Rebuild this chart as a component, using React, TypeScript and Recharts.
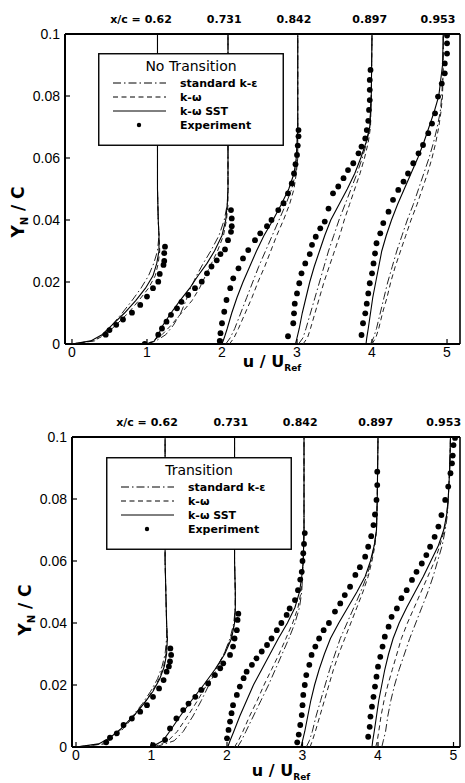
import React from 'react';
import { ScatterChart, Scatter, XAxis, YAxis, Legend, Label, ReferenceDot } from 'recharts';

// ---------- shared axis values ----------
const xTicks = [0, 1, 2, 3, 4, 5];
const yTicks = [0, 0.02, 0.04, 0.06, 0.08, 0.1];
const stationLabels = ['x/c = 0.62', '0.731', '0.842', '0.897', '0.953'];
const topStationPos = [0.92, 2.03, 2.96, 3.97, 4.88];
const botStationPos = [0.94, 2.05, 2.97, 3.97, 4.87];
const seriesNames = ['standard k-\u03b5', 'k-\u03c9', 'k-\u03c9 SST', 'Experiment'];

// ---------- No Transition (top) ----------
const nt1Y = [0, 0.001, 0.003, 0.006, 0.01, 0.014, 0.018, 0.022, 0.026, 0.03, 0.035, 0.04, 0.05, 0.06, 0.08, 0.1];
const nt1Sst = [0.0, 0.25, 0.40, 0.53, 0.70, 0.85, 0.98, 1.08, 1.13, 1.16, 1.16, 1.15, 1.14, 1.14, 1.14, 1.14];
const nt1Ke = [0.0, 0.30, 0.42, 0.53, 0.67, 0.80, 0.92, 1.02, 1.09, 1.14, 1.16, 1.15, 1.14, 1.14, 1.14, 1.14];
const nt1Kw = [0.0, 0.28, 0.45, 0.58, 0.75, 0.89, 1.02, 1.11, 1.15, 1.17, 1.16, 1.15, 1.14, 1.14, 1.14, 1.14];
const nt1ExpU = [0.45, 0.50, 0.59, 0.68, 0.80, 0.91, 1.00, 1.08, 1.15, 1.17, 1.22, 1.23, 1.23, 1.24];
const nt1ExpY = [0.003, 0.0045, 0.0062, 0.0079, 0.0101, 0.0126, 0.0153, 0.018, 0.0201, 0.0226, 0.0255, 0.0268, 0.0293, 0.0314];

const nt2Y = [0, 0.001, 0.003, 0.006, 0.01, 0.014, 0.018, 0.022, 0.026, 0.03, 0.035, 0.04, 0.045, 0.05, 0.06, 0.08, 0.1];
const nt2Sst = [1.0, 1.10, 1.15, 1.21, 1.32, 1.44, 1.57, 1.68, 1.80, 1.90, 2.00, 2.05, 2.07, 2.08, 2.08, 2.08, 2.08];
const nt2Ke = [1.0, 1.12, 1.25, 1.35, 1.45, 1.52, 1.58, 1.66, 1.75, 1.85, 1.96, 2.03, 2.07, 2.08, 2.08, 2.08, 2.08];
const nt2Kw = [1.0, 1.08, 1.20, 1.32, 1.46, 1.60, 1.70, 1.78, 1.86, 1.94, 2.02, 2.06, 2.08, 2.08, 2.08, 2.08, 2.08];
const nt2ExpU = [0.97, 1.15, 1.20, 1.26, 1.32, 1.40, 1.46, 1.55, 1.64, 1.73, 1.80, 1.86, 1.93, 1.98, 2.04, 2.08, 2.12, 2.13, 2.13, 2.12];
const nt2ExpY = [0.0, 0.003, 0.005, 0.0072, 0.0094, 0.0115, 0.0136, 0.0158, 0.018, 0.0201, 0.0228, 0.025, 0.027, 0.029, 0.0305, 0.0335, 0.0362, 0.038, 0.0405, 0.0432];

const nt3Y = [0, 0.002, 0.005, 0.01, 0.015, 0.02, 0.025, 0.03, 0.035, 0.04, 0.045, 0.05, 0.055, 0.06, 0.07, 0.08, 0.1];
const nt3Sst = [2.0, 2.03, 2.07, 2.13, 2.20, 2.28, 2.37, 2.46, 2.56, 2.68, 2.79, 2.89, 2.96, 2.99, 3.01, 3.01, 3.01];
const nt3Ke = [2.05, 2.11, 2.17, 2.25, 2.33, 2.41, 2.49, 2.58, 2.67, 2.76, 2.85, 2.93, 2.98, 3.0, 3.01, 3.01, 3.01];
const nt3Kw = [2.1, 2.16, 2.22, 2.31, 2.40, 2.48, 2.57, 2.65, 2.73, 2.82, 2.90, 2.96, 2.99, 3.01, 3.01, 3.01, 3.01];
const nt3ExpU = [1.97, 1.98, 2.0, 2.03, 2.06, 2.11, 2.15, 2.22, 2.28, 2.35, 2.44, 2.51, 2.60, 2.66, 2.75, 2.82, 2.88, 2.93, 2.96, 2.98, 3.0, 3.01, 3.02, 3.02];
const nt3ExpY = [0.001, 0.0035, 0.0067, 0.0104, 0.0142, 0.018, 0.0212, 0.0244, 0.0276, 0.0303, 0.0335, 0.0357, 0.038, 0.040, 0.0432, 0.0454, 0.0486, 0.0518, 0.055, 0.058, 0.061, 0.064, 0.067, 0.069];

const nt4Y = [0, 0.002, 0.005, 0.01, 0.015, 0.02, 0.025, 0.03, 0.035, 0.04, 0.045, 0.05, 0.055, 0.06, 0.065, 0.07, 0.08, 0.1];
const nt4Sst = [2.98, 3.0, 3.03, 3.07, 3.12, 3.17, 3.23, 3.30, 3.37, 3.45, 3.56, 3.67, 3.77, 3.85, 3.92, 3.97, 3.99, 4.0];
const nt4Ke = [3.02, 3.08, 3.12, 3.18, 3.24, 3.30, 3.36, 3.42, 3.49, 3.56, 3.64, 3.72, 3.80, 3.87, 3.93, 3.97, 3.99, 4.0];
const nt4Kw = [3.08, 3.14, 3.18, 3.24, 3.30, 3.36, 3.43, 3.50, 3.57, 3.63, 3.70, 3.77, 3.84, 3.90, 3.95, 3.98, 3.99, 4.0];
const nt4ExpU = [2.88, 2.95, 2.96, 2.97, 3.0, 3.03, 3.06, 3.11, 3.17, 3.20, 3.25, 3.31, 3.37, 3.42, 3.48, 3.55, 3.62, 3.68, 3.75, 3.82, 3.86, 3.91, 3.93, 3.95, 3.96, 3.97, 3.97, 3.97, 3.98];
const nt4ExpY = [0.0025, 0.0067, 0.0099, 0.013, 0.0163, 0.0196, 0.0228, 0.026, 0.029, 0.032, 0.0346, 0.0373, 0.0395, 0.0437, 0.0486, 0.0508, 0.0535, 0.0561, 0.0583, 0.0615, 0.0637, 0.0663, 0.069, 0.072, 0.0755, 0.0787, 0.082, 0.0852, 0.0884];

const nt5Y = [0, 0.002, 0.005, 0.01, 0.015, 0.02, 0.025, 0.03, 0.035, 0.04, 0.045, 0.05, 0.055, 0.06, 0.065, 0.07, 0.075, 0.08, 0.09, 0.1];
const nt5Sst = [3.92, 3.93, 3.95, 3.98, 4.01, 4.05, 4.09, 4.13, 4.19, 4.26, 4.34, 4.43, 4.52, 4.61, 4.69, 4.76, 4.83, 4.89, 4.94, 4.95];
const nt5Ke = [3.98, 4.02, 4.06, 4.11, 4.16, 4.21, 4.27, 4.33, 4.40, 4.47, 4.55, 4.62, 4.69, 4.76, 4.82, 4.87, 4.91, 4.93, 4.95, 4.95];
const nt5Kw = [4.0, 4.05, 4.09, 4.14, 4.20, 4.25, 4.31, 4.38, 4.45, 4.52, 4.60, 4.67, 4.74, 4.80, 4.85, 4.89, 4.92, 4.94, 4.95, 4.95];
const nt5ExpU = [3.86, 3.88, 3.91, 3.93, 3.95, 3.97, 4.0, 4.02, 4.04, 4.06, 4.11, 4.15, 4.22, 4.28, 4.35, 4.42, 4.48, 4.55, 4.62, 4.68, 4.75, 4.80, 4.84, 4.88, 4.93, 4.97, 4.97, 5.0, 5.0, 5.0];
const nt5ExpY = [0.0029, 0.0067, 0.0099, 0.013, 0.0163, 0.0196, 0.0228, 0.026, 0.0292, 0.0325, 0.0357, 0.039, 0.0427, 0.0465, 0.0497, 0.0524, 0.055, 0.0583, 0.0615, 0.0642, 0.068, 0.0711, 0.0744, 0.0798, 0.084, 0.0873, 0.0905, 0.0937, 0.097, 0.0995];

// ---------- Transition (bottom) ----------
const tr1Y = [0, 0.001, 0.003, 0.006, 0.01, 0.014, 0.018, 0.022, 0.026, 0.03, 0.035, 0.04, 0.05, 0.06, 0.08, 0.1];
const tr1Sst = [0.0, 0.30, 0.45, 0.60, 0.76, 0.90, 1.02, 1.11, 1.17, 1.20, 1.21, 1.20, 1.19, 1.18, 1.18, 1.18];
const tr1Ke = [0.0, 0.35, 0.48, 0.61, 0.75, 0.88, 0.99, 1.08, 1.14, 1.18, 1.20, 1.20, 1.19, 1.18, 1.18, 1.18];
const tr1Kw = [0.0, 0.38, 0.50, 0.63, 0.77, 0.90, 1.01, 1.10, 1.16, 1.19, 1.21, 1.20, 1.19, 1.18, 1.18, 1.18];
const tr1ExpU = [0.40, 0.45, 0.54, 0.63, 0.74, 0.85, 0.94, 1.02, 1.10, 1.16, 1.20, 1.23, 1.245, 1.26, 1.25];
const tr1ExpY = [0.0015, 0.003, 0.0044, 0.0071, 0.0092, 0.0114, 0.0135, 0.0162, 0.0189, 0.0216, 0.0243, 0.026, 0.0276, 0.0297, 0.0318];

const tr2Y = [0, 0.002, 0.005, 0.01, 0.015, 0.02, 0.025, 0.03, 0.035, 0.04, 0.045, 0.05, 0.06, 0.08, 0.1];
const tr2Sst = [1.0, 1.15, 1.24, 1.38, 1.53, 1.69, 1.84, 1.97, 2.06, 2.10, 2.11, 2.11, 2.10, 2.10, 2.10];
const tr2Ke = [1.05, 1.30, 1.42, 1.55, 1.66, 1.76, 1.86, 1.96, 2.04, 2.09, 2.11, 2.11, 2.10, 2.10, 2.10];
const tr2Kw = [1.03, 1.22, 1.34, 1.48, 1.61, 1.73, 1.85, 1.96, 2.05, 2.10, 2.11, 2.11, 2.10, 2.10, 2.10];
const tr2ExpU = [1.02, 1.18, 1.245, 1.33, 1.42, 1.49, 1.58, 1.66, 1.75, 1.84, 1.91, 1.95, 2.04, 2.08, 2.10, 2.13, 2.14, 2.15];
const tr2ExpY = [0.0006, 0.0023, 0.006, 0.0092, 0.0119, 0.014, 0.0162, 0.0184, 0.0205, 0.0232, 0.0254, 0.027, 0.0297, 0.0324, 0.035, 0.0377, 0.041, 0.043];

const tr3Y = [0, 0.002, 0.005, 0.01, 0.015, 0.02, 0.025, 0.03, 0.035, 0.04, 0.045, 0.05, 0.055, 0.06, 0.07, 0.08, 0.1];
const tr3Sst = [2.01, 2.04, 2.09, 2.17, 2.26, 2.35, 2.46, 2.57, 2.68, 2.80, 2.90, 2.96, 2.99, 3.01, 3.02, 3.02, 3.02];
const tr3Ke = [2.14, 2.19, 2.25, 2.35, 2.45, 2.55, 2.64, 2.73, 2.82, 2.90, 2.96, 2.99, 3.0, 3.01, 3.02, 3.02, 3.02];
const tr3Kw = [2.10, 2.15, 2.21, 2.30, 2.40, 2.49, 2.59, 2.69, 2.78, 2.87, 2.94, 2.98, 3.0, 3.01, 3.02, 3.02, 3.02];
const tr3ExpU = [2.0, 2.02, 2.04, 2.06, 2.08, 2.13, 2.17, 2.22, 2.26, 2.33, 2.39, 2.46, 2.53, 2.59, 2.66, 2.72, 2.79, 2.83, 2.90, 2.94, 2.97, 2.99, 3.0, 3.01, 3.02, 3.03];
const tr3ExpY = [0.0028, 0.0055, 0.0082, 0.0109, 0.0135, 0.0168, 0.0195, 0.0222, 0.0243, 0.0265, 0.0286, 0.0308, 0.0329, 0.035, 0.0377, 0.040, 0.0426, 0.0447, 0.0474, 0.0506, 0.054, 0.0565, 0.060, 0.0625, 0.0655, 0.069];

const tr4Y = [0, 0.002, 0.005, 0.01, 0.015, 0.02, 0.025, 0.03, 0.035, 0.04, 0.045, 0.05, 0.055, 0.06, 0.065, 0.07, 0.08, 0.1];
const tr4Sst = [2.98, 3.0, 3.03, 3.07, 3.11, 3.16, 3.22, 3.29, 3.37, 3.48, 3.60, 3.72, 3.83, 3.90, 3.95, 3.98, 3.99, 4.0];
const tr4Ke = [3.05, 3.09, 3.13, 3.18, 3.24, 3.30, 3.36, 3.43, 3.50, 3.59, 3.68, 3.77, 3.85, 3.91, 3.95, 3.98, 3.99, 4.0];
const tr4Kw = [3.10, 3.13, 3.17, 3.23, 3.29, 3.35, 3.41, 3.48, 3.56, 3.64, 3.72, 3.80, 3.87, 3.92, 3.96, 3.98, 3.99, 4.0];
const tr4ExpU = [2.93, 2.95, 2.97, 2.99, 3.0, 3.01, 3.03, 3.05, 3.09, 3.12, 3.17, 3.22, 3.28, 3.35, 3.43, 3.50, 3.56, 3.63, 3.70, 3.76, 3.83, 3.87, 3.91, 3.94, 3.96, 3.98, 3.99, 3.99];
const tr4ExpY = [0.0015, 0.004, 0.0071, 0.0103, 0.0135, 0.0168, 0.02, 0.0232, 0.0265, 0.0297, 0.0324, 0.035, 0.0377, 0.040, 0.0437, 0.0463, 0.049, 0.0517, 0.0555, 0.058, 0.0614, 0.0646, 0.068, 0.0716, 0.075, 0.0797, 0.0845, 0.0888];

const tr5Y = [0, 0.002, 0.005, 0.01, 0.015, 0.02, 0.025, 0.03, 0.035, 0.04, 0.045, 0.05, 0.055, 0.06, 0.065, 0.07, 0.075, 0.08, 0.09, 0.1];
const tr5Sst = [3.92, 3.93, 3.95, 3.98, 4.01, 4.05, 4.09, 4.14, 4.20, 4.28, 4.38, 4.49, 4.60, 4.70, 4.80, 4.87, 4.91, 4.93, 4.95, 4.96];
const tr5Ke = [4.05, 4.07, 4.10, 4.13, 4.17, 4.22, 4.28, 4.35, 4.42, 4.50, 4.58, 4.66, 4.73, 4.79, 4.85, 4.89, 4.92, 4.93, 4.95, 4.96];
const tr5Kw = [3.97, 3.99, 4.01, 4.04, 4.08, 4.13, 4.19, 4.25, 4.31, 4.39, 4.48, 4.57, 4.66, 4.75, 4.82, 4.88, 4.91, 4.93, 4.95, 4.96];
const tr5ExpU = [3.87, 3.89, 3.90, 3.92, 3.94, 3.96, 3.98, 4.0, 4.03, 4.06, 4.09, 4.14, 4.18, 4.25, 4.31, 4.38, 4.45, 4.51, 4.58, 4.64, 4.69, 4.75, 4.80, 4.84, 4.89, 4.93, 4.96, 4.98, 4.99, 5.0, 5.02];
const tr5ExpY = [0.0033, 0.0065, 0.0098, 0.013, 0.0162, 0.0195, 0.0227, 0.0259, 0.0291, 0.0324, 0.0356, 0.0388, 0.042, 0.0447, 0.048, 0.0506, 0.0539, 0.0565, 0.0592, 0.0619, 0.0646, 0.0678, 0.0711, 0.0748, 0.0797, 0.084, 0.0883, 0.0915, 0.094, 0.0974, 0.0997];

// ---------- helpers ----------
type Profile = { y: number[]; sst: number[]; ke: number[]; kw: number[]; expU: number[]; expY: number[] };

const topProfiles: Profile[] = [
  { y: nt1Y, sst: nt1Sst, ke: nt1Ke, kw: nt1Kw, expU: nt1ExpU, expY: nt1ExpY },
  { y: nt2Y, sst: nt2Sst, ke: nt2Ke, kw: nt2Kw, expU: nt2ExpU, expY: nt2ExpY },
  { y: nt3Y, sst: nt3Sst, ke: nt3Ke, kw: nt3Kw, expU: nt3ExpU, expY: nt3ExpY },
  { y: nt4Y, sst: nt4Sst, ke: nt4Ke, kw: nt4Kw, expU: nt4ExpU, expY: nt4ExpY },
  { y: nt5Y, sst: nt5Sst, ke: nt5Ke, kw: nt5Kw, expU: nt5ExpU, expY: nt5ExpY },
];
const botProfiles: Profile[] = [
  { y: tr1Y, sst: tr1Sst, ke: tr1Ke, kw: tr1Kw, expU: tr1ExpU, expY: tr1ExpY },
  { y: tr2Y, sst: tr2Sst, ke: tr2Ke, kw: tr2Kw, expU: tr2ExpU, expY: tr2ExpY },
  { y: tr3Y, sst: tr3Sst, ke: tr3Ke, kw: tr3Kw, expU: tr3ExpU, expY: tr3ExpY },
  { y: tr4Y, sst: tr4Sst, ke: tr4Ke, kw: tr4Kw, expU: tr4ExpU, expY: tr4ExpY },
  { y: tr5Y, sst: tr5Sst, ke: tr5Ke, kw: tr5Kw, expU: tr5ExpU, expY: tr5ExpY },
];

const toPts = (us: number[], ys: number[]) => us.map((u, i) => ({ u, y: ys[i] }));

const NoShape = () => <g />;
const Dot = (props: any) => <circle cx={props.cx} cy={props.cy} r={2.9} fill="#000" />;

const KE_DASH = '8 3 1.5 3';
const KW_DASH = '5 3.5';

const LegendBox = ({ title }: { title: string }) => {
  const rows = [30, 44, 58, 72];
  const styles = [
    { stroke: '#000', strokeDasharray: KE_DASH },
    { stroke: '#000', strokeDasharray: KW_DASH },
    { stroke: '#000' },
  ];
  return (
    <svg width={186} height={93} style={{ display: 'block' }}>
      <rect x={0.75} y={0.75} width={184.5} height={91.5} fill="#fff" stroke="#000" strokeWidth={1.4} />
      <text x={93} y={18} textAnchor="middle" fontFamily="DejaVu Sans" fontSize={14} fill="#000">{title}</text>
      {styles.map((s, i) => (
        <line key={i} x1={15} x2={68} y1={rows[i]} y2={rows[i]} strokeWidth={1} {...s} />
      ))}
      <circle cx={41} cy={rows[3]} r={2.2} fill="#000" />
      {seriesNames.map((n, i) => (
        <text key={n} x={82} y={rows[i] + 4} fontFamily="DejaVu Sans" fontWeight="bold" fontSize={11} fill="#000">{n}</text>
      ))}
    </svg>
  );
};

type PanelProps = {
  profiles: Profile[];
  stationPos: number[];
  xDomain: [number, number];
  height: number;
  margin: { top: number; right: number; bottom: number; left: number };
  title: string;
  legendPos: { left: number; top: number };
  yTitle: { x: number; y: number };
  xTitle: { x: number; y: number };
};

const Panel = (p: PanelProps) => {
  const tickFont = { fill: '#000', fontSize: 14, fontFamily: 'Liberation Sans, Arial' };
  return (
    <ScatterChart width={465} height={p.height} margin={p.margin}>
      <XAxis
        xAxisId="b" type="number" dataKey="u" domain={p.xDomain} ticks={xTicks} interval={0}
        allowDataOverflow height={30} tickSize={-5} tickMargin={8}
        axisLine={{ stroke: '#000', strokeWidth: 2 }} tickLine={{ stroke: '#000', strokeWidth: 1.2 }} tick={tickFont}
      >
        <Label
          content={() => (
            <text x={p.xTitle.x} y={p.xTitle.y} textAnchor="middle" fontFamily="DejaVu Sans" fontWeight="bold" fontSize={16} fill="#000">
              u / U<tspan fontSize={9} dy={4}>Ref</tspan>
            </text>
          )}
        />
      </XAxis>
      <XAxis
        xAxisId="t" orientation="top" type="number" domain={p.xDomain} height={20}
        allowDataOverflow tick={false} tickLine={false}
        axisLine={{ stroke: '#000', strokeWidth: 2 }}
      />
      <YAxis
        yAxisId="l" type="number" dataKey="y" domain={[0, 0.1]} ticks={yTicks} interval={0}
        allowDataOverflow width={50} tickSize={-5} tickMargin={10}
        axisLine={{ stroke: '#000', strokeWidth: 2 }} tickLine={{ stroke: '#000', strokeWidth: 1.2 }} tick={tickFont}
      >
        <Label
          content={() => (
            <text
              x={p.yTitle.x} y={p.yTitle.y} textAnchor="middle" fontFamily="DejaVu Sans" fontWeight="bold" fontSize={17} fill="#000"
              transform={`rotate(-90 ${p.yTitle.x} ${p.yTitle.y})`}
            >
              Y<tspan fontSize={10} dy={4}>N</tspan><tspan dy={-4}> / C</tspan>
            </text>
          )}
        />
      </YAxis>
      <YAxis
        yAxisId="r" orientation="right" type="number" domain={[0, 0.1]} width={1}
        tick={false} tickLine={false} axisLine={{ stroke: '#000', strokeWidth: 1.6 }}
      />
      {p.profiles.map((pr, i) => (
        <Scatter key={`ke${i}`} name={seriesNames[0]} xAxisId="b" yAxisId="l" data={toPts(pr.ke, pr.y)} shape={NoShape}
          line={{ stroke: '#222', strokeWidth: 1, strokeDasharray: KE_DASH }} lineType="joint" isAnimationActive={false} />
      ))}
      {p.profiles.map((pr, i) => (
        <Scatter key={`kw${i}`} name={seriesNames[1]} xAxisId="b" yAxisId="l" data={toPts(pr.kw, pr.y)} shape={NoShape}
          line={{ stroke: '#222', strokeWidth: 1, strokeDasharray: KW_DASH }} lineType="joint" isAnimationActive={false} />
      ))}
      {p.profiles.map((pr, i) => (
        <Scatter key={`sst${i}`} name={seriesNames[2]} xAxisId="b" yAxisId="l" data={toPts(pr.sst, pr.y)} shape={NoShape}
          line={{ stroke: '#000', strokeWidth: 1.1 }} lineType="joint" isAnimationActive={false} />
      ))}
      {p.profiles.map((pr, i) => (
        <Scatter key={`exp${i}`} name={seriesNames[3]} xAxisId="b" yAxisId="l" data={toPts(pr.expU, pr.expY)} shape={Dot}
          isAnimationActive={false} />
      ))}
      {p.stationPos.map((s, i) => (
        <ReferenceDot
          key={`st${i}`} xAxisId="b" yAxisId="l" x={s} y={0.1} r={0.01} fill="none" stroke="none" ifOverflow="visible"
          label={(lp: any) => {
            const vb = lp && lp.viewBox ? lp.viewBox : {};
            const cx = (vb.x ?? 0) + (vb.width ?? 0) / 2;
            const cy = (vb.y ?? 0) + (vb.height ?? 0) / 2;
            return (
              <text x={cx} y={cy - 11} textAnchor="middle" fontFamily="DejaVu Sans" fontWeight="bold" fontSize={11} fill="#000">
                {stationLabels[i]}
              </text>
            );
          }}
        />
      ))}
      <Legend
        layout="vertical" align="center" verticalAlign="middle"
        wrapperStyle={{ position: 'absolute', left: p.legendPos.left, top: p.legendPos.top, width: 186, height: 93 }}
        content={() => <LegendBox title={p.title} />}
      />
    </ScatterChart>
  );
};

export default function App() {
  return (
    <div style={{ position: 'absolute', left: 0, top: 0, width: 465, height: 783, background: '#fff' }}>
      <div style={{ position: 'absolute', left: 0, top: 0 }}>
        <Panel
          profiles={topProfiles}
          stationPos={topStationPos}
          xDomain={[-0.093, 5.173]}
          height={390}
          margin={{ top: 14, right: 4, bottom: 16, left: 15 }}
          title="No Transition"
          legendPos={{ left: 98, top: 53 }}
          yTitle={{ x: 24, y: 212 }}
          xTitle={{ x: 272, y: 367 }}
        />
      </div>
      <div style={{ position: 'absolute', left: 0, top: 390 }}>
        <Panel
          profiles={botProfiles}
          stationPos={botStationPos}
          xDomain={[-0.053, 5.086]}
          height={393}
          margin={{ top: 27, right: 4, bottom: 6, left: 22 }}
          title="Transition"
          legendPos={{ left: 106, top: 67 }}
          yTitle={{ x: 31, y: 220 }}
          xTitle={{ x: 281, y: 386 }}
        />
      </div>
    </div>
  );
}
